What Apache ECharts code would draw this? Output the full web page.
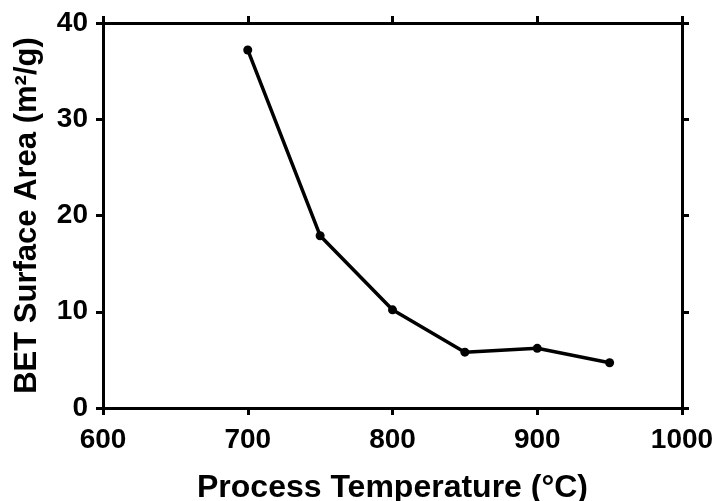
<!DOCTYPE html>
<html>
<head>
<meta charset="utf-8">
<script src="https://cdn.jsdelivr.net/npm/echarts@6/dist/echarts.min.js"></script>
<style>
  html, body { margin: 0; padding: 0; background: #fff; }
  #box { width: 715px; height: 501px; }
</style>
</head>
<body>
<div id="box"></div>
<script>
// process temperature (°C) and BET surface area (m²/g)
var temps = [700, 750, 800, 850, 900, 950];
var area = [37.2, 17.9, 10.2, 5.8, 6.2, 4.7];
var xTicks = [600, 700, 800, 900, 1000];
var yTicks = [0, 10, 20, 30, 40];

var font = "'Liberation Sans', Arial, sans-serif";
var points = temps.map(function (t, i) { return [t, area[i]]; });

function xAx(pos, labels) {
  return {
    type: 'value', position: pos,
    min: xTicks[0], max: xTicks[xTicks.length - 1], interval: 100,
    axisLine: { show: true, onZero: false, lineStyle: { color: '#000', width: 3 } },
    axisTick: { show: true, inside: false, length: 7, lineStyle: { color: '#000', width: 3 } },
    splitLine: { show: false },
    axisLabel: { show: labels, margin: 18, color: '#000', fontSize: 28, fontWeight: 'bold', fontFamily: font,
      formatter: function (v) { return String(v); } }
  };
}
function yAx(pos, labels) {
  return {
    type: 'value', position: pos,
    min: yTicks[0], max: yTicks[yTicks.length - 1], interval: 10,
    axisLine: { show: true, onZero: false, lineStyle: { color: '#000', width: 3 } },
    axisTick: { show: true, inside: false, length: 7, lineStyle: { color: '#000', width: 3 } },
    splitLine: { show: false },
    axisLabel: { show: labels, margin: 15, color: '#000', fontSize: 28, fontWeight: 'bold', fontFamily: font }
  };
}

var chart = echarts.init(document.getElementById('box'));
var xb = xAx('bottom', true);
xb.name = 'Process Temperature (°C)';
xb.nameLocation = 'middle';
xb.nameGap = 64;
xb.nameTextStyle = { color: '#000', fontSize: 32, fontWeight: 'bold', fontFamily: font };
var yl = yAx('left', true);
yl.name = 'BET Surface Area (m²/g)';
yl.nameLocation = 'middle';
yl.nameGap = 60;
yl.nameTextStyle = { color: '#000', fontSize: 31, fontWeight: 'bold', fontFamily: font };

var option = {
  animation: false,
  grid: { left: 103, top: 23, right: 33, bottom: 93, containLabel: false, outerBoundsMode: 'none' },
  xAxis: [xb, xAx('top', false)],
  yAxis: [yl, yAx('right', false)],
  series: [{
    type: 'line',
    data: points,
    xAxisIndex: 0, yAxisIndex: 0,
    symbol: 'circle', symbolSize: 9,
    lineStyle: { color: '#000', width: 3.5 },
    itemStyle: { color: '#000' }
  }]
};
chart.setOption(option);
</script>
</body>
</html>
